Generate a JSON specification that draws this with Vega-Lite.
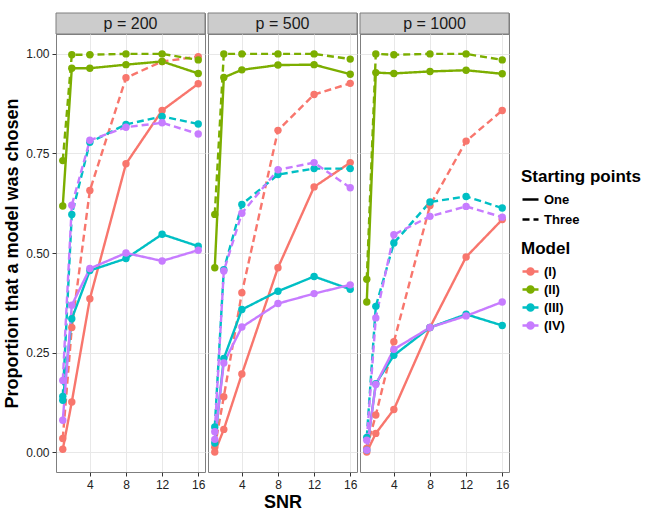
{
  "$schema": "https://vega.github.io/schema/vega-lite/v6.json",
  "padding": {"left": 3, "top": 12, "right": 5, "bottom": 5},
  "datasets": {
    "runs": [
      {"p": 200, "model": "(I)", "start": "One", "snr": 1, "prop": 0.007},
      {"p": 200, "model": "(I)", "start": "One", "snr": 2, "prop": 0.126},
      {"p": 200, "model": "(I)", "start": "One", "snr": 4, "prop": 0.385},
      {"p": 200, "model": "(I)", "start": "One", "snr": 8, "prop": 0.724},
      {"p": 200, "model": "(I)", "start": "One", "snr": 12, "prop": 0.858},
      {"p": 200, "model": "(I)", "start": "One", "snr": 16, "prop": 0.925},
      {"p": 200, "model": "(I)", "start": "Three", "snr": 1, "prop": 0.034},
      {"p": 200, "model": "(I)", "start": "Three", "snr": 2, "prop": 0.313},
      {"p": 200, "model": "(I)", "start": "Three", "snr": 4, "prop": 0.657},
      {"p": 200, "model": "(I)", "start": "Three", "snr": 8, "prop": 0.94},
      {"p": 200, "model": "(I)", "start": "Three", "snr": 12, "prop": 0.981},
      {"p": 200, "model": "(I)", "start": "Three", "snr": 16, "prop": 0.993},
      {"p": 200, "model": "(II)", "start": "One", "snr": 1, "prop": 0.618},
      {"p": 200, "model": "(II)", "start": "One", "snr": 2, "prop": 0.964},
      {"p": 200, "model": "(II)", "start": "One", "snr": 4, "prop": 0.964},
      {"p": 200, "model": "(II)", "start": "One", "snr": 8, "prop": 0.973},
      {"p": 200, "model": "(II)", "start": "One", "snr": 12, "prop": 0.981},
      {"p": 200, "model": "(II)", "start": "One", "snr": 16, "prop": 0.951},
      {"p": 200, "model": "(II)", "start": "Three", "snr": 1, "prop": 0.732},
      {"p": 200, "model": "(II)", "start": "Three", "snr": 2, "prop": 0.998},
      {"p": 200, "model": "(II)", "start": "Three", "snr": 4, "prop": 0.998},
      {"p": 200, "model": "(II)", "start": "Three", "snr": 8, "prop": 1.0},
      {"p": 200, "model": "(II)", "start": "Three", "snr": 12, "prop": 1.0},
      {"p": 200, "model": "(II)", "start": "Three", "snr": 16, "prop": 0.985},
      {"p": 200, "model": "(III)", "start": "One", "snr": 1, "prop": 0.13},
      {"p": 200, "model": "(III)", "start": "One", "snr": 2, "prop": 0.335},
      {"p": 200, "model": "(III)", "start": "One", "snr": 4, "prop": 0.456},
      {"p": 200, "model": "(III)", "start": "One", "snr": 8, "prop": 0.486},
      {"p": 200, "model": "(III)", "start": "One", "snr": 12, "prop": 0.547},
      {"p": 200, "model": "(III)", "start": "One", "snr": 16, "prop": 0.517},
      {"p": 200, "model": "(III)", "start": "Three", "snr": 1, "prop": 0.14},
      {"p": 200, "model": "(III)", "start": "Three", "snr": 2, "prop": 0.597},
      {"p": 200, "model": "(III)", "start": "Three", "snr": 4, "prop": 0.778},
      {"p": 200, "model": "(III)", "start": "Three", "snr": 8, "prop": 0.823},
      {"p": 200, "model": "(III)", "start": "Three", "snr": 12, "prop": 0.843},
      {"p": 200, "model": "(III)", "start": "Three", "snr": 16, "prop": 0.824},
      {"p": 200, "model": "(IV)", "start": "One", "snr": 1, "prop": 0.08},
      {"p": 200, "model": "(IV)", "start": "One", "snr": 2, "prop": 0.369},
      {"p": 200, "model": "(IV)", "start": "One", "snr": 4, "prop": 0.461},
      {"p": 200, "model": "(IV)", "start": "One", "snr": 8, "prop": 0.5},
      {"p": 200, "model": "(IV)", "start": "One", "snr": 12, "prop": 0.48},
      {"p": 200, "model": "(IV)", "start": "One", "snr": 16, "prop": 0.507},
      {"p": 200, "model": "(IV)", "start": "Three", "snr": 1, "prop": 0.18},
      {"p": 200, "model": "(IV)", "start": "Three", "snr": 2, "prop": 0.62},
      {"p": 200, "model": "(IV)", "start": "Three", "snr": 4, "prop": 0.783},
      {"p": 200, "model": "(IV)", "start": "Three", "snr": 8, "prop": 0.816},
      {"p": 200, "model": "(IV)", "start": "Three", "snr": 12, "prop": 0.827},
      {"p": 200, "model": "(IV)", "start": "Three", "snr": 16, "prop": 0.799},

      {"p": 500, "model": "(I)", "start": "One", "snr": 1, "prop": 0.0},
      {"p": 500, "model": "(I)", "start": "One", "snr": 2, "prop": 0.057},
      {"p": 500, "model": "(I)", "start": "One", "snr": 4, "prop": 0.196},
      {"p": 500, "model": "(I)", "start": "One", "snr": 8, "prop": 0.463},
      {"p": 500, "model": "(I)", "start": "One", "snr": 12, "prop": 0.666},
      {"p": 500, "model": "(I)", "start": "One", "snr": 16, "prop": 0.727},
      {"p": 500, "model": "(I)", "start": "Three", "snr": 1, "prop": 0.012},
      {"p": 500, "model": "(I)", "start": "Three", "snr": 2, "prop": 0.139},
      {"p": 500, "model": "(I)", "start": "Three", "snr": 4, "prop": 0.4},
      {"p": 500, "model": "(I)", "start": "Three", "snr": 8, "prop": 0.808},
      {"p": 500, "model": "(I)", "start": "Three", "snr": 12, "prop": 0.898},
      {"p": 500, "model": "(I)", "start": "Three", "snr": 16, "prop": 0.926},
      {"p": 500, "model": "(II)", "start": "One", "snr": 1, "prop": 0.463},
      {"p": 500, "model": "(II)", "start": "One", "snr": 2, "prop": 0.941},
      {"p": 500, "model": "(II)", "start": "One", "snr": 4, "prop": 0.96},
      {"p": 500, "model": "(II)", "start": "One", "snr": 8, "prop": 0.972},
      {"p": 500, "model": "(II)", "start": "One", "snr": 12, "prop": 0.973},
      {"p": 500, "model": "(II)", "start": "One", "snr": 16, "prop": 0.949},
      {"p": 500, "model": "(II)", "start": "Three", "snr": 1, "prop": 0.597},
      {"p": 500, "model": "(II)", "start": "Three", "snr": 2, "prop": 1.0},
      {"p": 500, "model": "(II)", "start": "Three", "snr": 4, "prop": 1.0},
      {"p": 500, "model": "(II)", "start": "Three", "snr": 8, "prop": 1.0},
      {"p": 500, "model": "(II)", "start": "Three", "snr": 12, "prop": 1.0},
      {"p": 500, "model": "(II)", "start": "Three", "snr": 16, "prop": 0.987},
      {"p": 500, "model": "(III)", "start": "One", "snr": 1, "prop": 0.023},
      {"p": 500, "model": "(III)", "start": "One", "snr": 2, "prop": 0.235},
      {"p": 500, "model": "(III)", "start": "One", "snr": 4, "prop": 0.358},
      {"p": 500, "model": "(III)", "start": "One", "snr": 8, "prop": 0.404},
      {"p": 500, "model": "(III)", "start": "One", "snr": 12, "prop": 0.441},
      {"p": 500, "model": "(III)", "start": "One", "snr": 16, "prop": 0.409},
      {"p": 500, "model": "(III)", "start": "Three", "snr": 1, "prop": 0.063},
      {"p": 500, "model": "(III)", "start": "Three", "snr": 2, "prop": 0.458},
      {"p": 500, "model": "(III)", "start": "Three", "snr": 4, "prop": 0.622},
      {"p": 500, "model": "(III)", "start": "Three", "snr": 8, "prop": 0.697},
      {"p": 500, "model": "(III)", "start": "Three", "snr": 12, "prop": 0.712},
      {"p": 500, "model": "(III)", "start": "Three", "snr": 16, "prop": 0.712},
      {"p": 500, "model": "(IV)", "start": "One", "snr": 1, "prop": 0.032},
      {"p": 500, "model": "(IV)", "start": "One", "snr": 2, "prop": 0.224},
      {"p": 500, "model": "(IV)", "start": "One", "snr": 4, "prop": 0.314},
      {"p": 500, "model": "(IV)", "start": "One", "snr": 8, "prop": 0.373},
      {"p": 500, "model": "(IV)", "start": "One", "snr": 12, "prop": 0.398},
      {"p": 500, "model": "(IV)", "start": "One", "snr": 16, "prop": 0.42},
      {"p": 500, "model": "(IV)", "start": "Three", "snr": 1, "prop": 0.051},
      {"p": 500, "model": "(IV)", "start": "Three", "snr": 2, "prop": 0.455},
      {"p": 500, "model": "(IV)", "start": "Three", "snr": 4, "prop": 0.6},
      {"p": 500, "model": "(IV)", "start": "Three", "snr": 8, "prop": 0.709},
      {"p": 500, "model": "(IV)", "start": "Three", "snr": 12, "prop": 0.727},
      {"p": 500, "model": "(IV)", "start": "Three", "snr": 16, "prop": 0.664},

      {"p": 1000, "model": "(I)", "start": "One", "snr": 1, "prop": 0.0},
      {"p": 1000, "model": "(I)", "start": "One", "snr": 2, "prop": 0.047},
      {"p": 1000, "model": "(I)", "start": "One", "snr": 4, "prop": 0.107},
      {"p": 1000, "model": "(I)", "start": "One", "snr": 8, "prop": 0.313},
      {"p": 1000, "model": "(I)", "start": "One", "snr": 12, "prop": 0.49},
      {"p": 1000, "model": "(I)", "start": "One", "snr": 16, "prop": 0.584},
      {"p": 1000, "model": "(I)", "start": "Three", "snr": 1, "prop": 0.01},
      {"p": 1000, "model": "(I)", "start": "Three", "snr": 2, "prop": 0.093},
      {"p": 1000, "model": "(I)", "start": "Three", "snr": 4, "prop": 0.277},
      {"p": 1000, "model": "(I)", "start": "Three", "snr": 8, "prop": 0.619},
      {"p": 1000, "model": "(I)", "start": "Three", "snr": 12, "prop": 0.781},
      {"p": 1000, "model": "(I)", "start": "Three", "snr": 16, "prop": 0.858},
      {"p": 1000, "model": "(II)", "start": "One", "snr": 1, "prop": 0.377},
      {"p": 1000, "model": "(II)", "start": "One", "snr": 2, "prop": 0.953},
      {"p": 1000, "model": "(II)", "start": "One", "snr": 4, "prop": 0.951},
      {"p": 1000, "model": "(II)", "start": "One", "snr": 8, "prop": 0.956},
      {"p": 1000, "model": "(II)", "start": "One", "snr": 12, "prop": 0.959},
      {"p": 1000, "model": "(II)", "start": "One", "snr": 16, "prop": 0.95},
      {"p": 1000, "model": "(II)", "start": "Three", "snr": 1, "prop": 0.434},
      {"p": 1000, "model": "(II)", "start": "Three", "snr": 2, "prop": 1.0},
      {"p": 1000, "model": "(II)", "start": "Three", "snr": 4, "prop": 0.998},
      {"p": 1000, "model": "(II)", "start": "Three", "snr": 8, "prop": 1.0},
      {"p": 1000, "model": "(II)", "start": "Three", "snr": 12, "prop": 1.0},
      {"p": 1000, "model": "(II)", "start": "Three", "snr": 16, "prop": 0.985},
      {"p": 1000, "model": "(III)", "start": "One", "snr": 1, "prop": 0.005},
      {"p": 1000, "model": "(III)", "start": "One", "snr": 2, "prop": 0.172},
      {"p": 1000, "model": "(III)", "start": "One", "snr": 4, "prop": 0.243},
      {"p": 1000, "model": "(III)", "start": "One", "snr": 8, "prop": 0.313},
      {"p": 1000, "model": "(III)", "start": "One", "snr": 12, "prop": 0.346},
      {"p": 1000, "model": "(III)", "start": "One", "snr": 16, "prop": 0.318},
      {"p": 1000, "model": "(III)", "start": "Three", "snr": 1, "prop": 0.037},
      {"p": 1000, "model": "(III)", "start": "Three", "snr": 2, "prop": 0.366},
      {"p": 1000, "model": "(III)", "start": "Three", "snr": 4, "prop": 0.525},
      {"p": 1000, "model": "(III)", "start": "Three", "snr": 8, "prop": 0.628},
      {"p": 1000, "model": "(III)", "start": "Three", "snr": 12, "prop": 0.642},
      {"p": 1000, "model": "(III)", "start": "Three", "snr": 16, "prop": 0.613},
      {"p": 1000, "model": "(IV)", "start": "One", "snr": 1, "prop": 0.005},
      {"p": 1000, "model": "(IV)", "start": "One", "snr": 2, "prop": 0.17},
      {"p": 1000, "model": "(IV)", "start": "One", "snr": 4, "prop": 0.258},
      {"p": 1000, "model": "(IV)", "start": "One", "snr": 8, "prop": 0.313},
      {"p": 1000, "model": "(IV)", "start": "One", "snr": 12, "prop": 0.342},
      {"p": 1000, "model": "(IV)", "start": "One", "snr": 16, "prop": 0.377},
      {"p": 1000, "model": "(IV)", "start": "Three", "snr": 1, "prop": 0.03},
      {"p": 1000, "model": "(IV)", "start": "Three", "snr": 2, "prop": 0.337},
      {"p": 1000, "model": "(IV)", "start": "Three", "snr": 4, "prop": 0.546},
      {"p": 1000, "model": "(IV)", "start": "Three", "snr": 8, "prop": 0.592},
      {"p": 1000, "model": "(IV)", "start": "Three", "snr": 12, "prop": 0.617},
      {"p": 1000, "model": "(IV)", "start": "Three", "snr": 16, "prop": 0.59}
    ]
  },
  "columns": 3,
  "spacing": {"row": 0, "column": 3},
  "bounds": "flush",
  "concat": [
    {
      "width": 149, "height": 21,
      "data": {"values": [{"lab": "p = 200"}]},
      "encoding": {
        "x": {"field": "lab", "type": "nominal", "axis": null, "scale": {"paddingInner": 0, "paddingOuter": 0}},
        "y": {"field": "lab", "type": "nominal", "axis": null, "scale": {"paddingInner": 0, "paddingOuter": 0}}
      },
      "layer": [
        {"mark": {"type": "rect", "fill": "#cccccc", "stroke": "#7f7f7f", "strokeWidth": 1}},
        {"mark": {"type": "text", "fontSize": 16, "color": "#1a1a1a"}, "encoding": {"text": {"field": "lab"}}}
      ]
    },
    {
      "width": 149, "height": 21,
      "data": {"values": [{"lab": "p = 500"}]},
      "encoding": {
        "x": {"field": "lab", "type": "nominal", "axis": null, "scale": {"paddingInner": 0, "paddingOuter": 0}},
        "y": {"field": "lab", "type": "nominal", "axis": null, "scale": {"paddingInner": 0, "paddingOuter": 0}}
      },
      "layer": [
        {"mark": {"type": "rect", "fill": "#cccccc", "stroke": "#7f7f7f", "strokeWidth": 1}},
        {"mark": {"type": "text", "fontSize": 16, "color": "#1a1a1a"}, "encoding": {"text": {"field": "lab"}}}
      ]
    },
    {
      "width": 149, "height": 21,
      "data": {"values": [{"lab": "p = 1000"}]},
      "encoding": {
        "x": {"field": "lab", "type": "nominal", "axis": null, "scale": {"paddingInner": 0, "paddingOuter": 0}},
        "y": {"field": "lab", "type": "nominal", "axis": null, "scale": {"paddingInner": 0, "paddingOuter": 0}}
      },
      "layer": [
        {"mark": {"type": "rect", "fill": "#cccccc", "stroke": "#7f7f7f", "strokeWidth": 1}},
        {"mark": {"type": "text", "fontSize": 16, "color": "#1a1a1a"}, "encoding": {"text": {"field": "lab"}}}
      ]
    },
    {
      "width": 149, "height": 438,
      "data": {"name": "runs"},
      "transform": [{"filter": "datum.p == 200"}],
      "layer": [
        {
          "mark": {"type": "line", "strokeWidth": 2.4},
          "encoding": {
            "x": {"field": "snr", "type": "quantitative", "scale": {"domain": [0.25, 16.75], "nice": false, "zero": false},
                  "axis": {"values": [4, 8, 12, 16], "title": null}},
            "y": {"field": "prop", "type": "quantitative", "scale": {"domain": [-0.05, 1.05], "nice": false, "zero": false},
                  "axis": {"values": [0, 0.25, 0.5, 0.75, 1], "format": ".2f", "title": "Proportion that a model was chosen"}},
            "color": {"field": "model", "type": "nominal", "title": "Model",
                      "scale": {"domain": ["(I)", "(II)", "(III)", "(IV)"], "range": ["#F8766D", "#7CAE00", "#00BFC4", "#C77CFF"]},
                      "legend": {"orient": "none", "legendX": 465, "legendY": 228, "rowPadding": 0}},
            "strokeDash": {"field": "start", "type": "nominal", "title": "Starting points",
                           "scale": {"domain": ["One", "Three"], "range": [[1, 0], [7, 4]]},
                           "legend": {"orient": "none", "legendX": 465, "legendY": 156, "symbolType": "stroke", "symbolStrokeColor": "black", "symbolStrokeWidth": 2.5}}
          }
        },
        {
          "mark": {"type": "point", "filled": true, "size": 55, "opacity": 1},
          "encoding": {
            "x": {"field": "snr", "type": "quantitative",
                  "axis": {"values": [2, 6, 10, 14], "labels": false, "ticks": false, "domain": false, "title": null, "gridColor": "#f5f5f5"}},
            "y": {"field": "prop", "type": "quantitative",
                  "axis": {"values": [0.125, 0.375, 0.625, 0.875], "labels": false, "ticks": false, "domain": false, "title": null, "gridColor": "#f5f5f5"}},
            "color": {"field": "model", "type": "nominal", "title": "Model"}
          }
        }
      ],
      "resolve": {"axis": {"x": "independent", "y": "independent"}}
    },
    {
      "width": 149, "height": 438,
      "data": {"name": "runs"},
      "transform": [{"filter": "datum.p == 500"}],
      "layer": [
        {
          "mark": {"type": "line", "strokeWidth": 2.4},
          "encoding": {
            "x": {"field": "snr", "type": "quantitative", "scale": {"domain": [0.25, 16.75], "nice": false, "zero": false},
                  "axis": {"values": [4, 8, 12, 16], "title": "SNR", "titlePadding": 3}},
            "y": {"field": "prop", "type": "quantitative", "scale": {"domain": [-0.05, 1.05], "nice": false, "zero": false},
                  "axis": {"values": [0, 0.25, 0.5, 0.75, 1], "labels": false, "ticks": false, "title": null}},
            "color": {"field": "model", "type": "nominal", "title": "Model",
                      "scale": {"domain": ["(I)", "(II)", "(III)", "(IV)"], "range": ["#F8766D", "#7CAE00", "#00BFC4", "#C77CFF"]},
                      "legend": {"orient": "none", "legendX": 465, "legendY": 228, "rowPadding": 0}},
            "strokeDash": {"field": "start", "type": "nominal", "title": "Starting points",
                           "scale": {"domain": ["One", "Three"], "range": [[1, 0], [7, 4]]},
                           "legend": {"orient": "none", "legendX": 465, "legendY": 156, "symbolType": "stroke", "symbolStrokeColor": "black", "symbolStrokeWidth": 2.5}}
          }
        },
        {
          "mark": {"type": "point", "filled": true, "size": 55, "opacity": 1},
          "encoding": {
            "x": {"field": "snr", "type": "quantitative",
                  "axis": {"values": [2, 6, 10, 14], "labels": false, "ticks": false, "domain": false, "title": null, "gridColor": "#f5f5f5"}},
            "y": {"field": "prop", "type": "quantitative",
                  "axis": {"values": [0.125, 0.375, 0.625, 0.875], "labels": false, "ticks": false, "domain": false, "title": null, "gridColor": "#f5f5f5"}},
            "color": {"field": "model", "type": "nominal", "title": "Model"}
          }
        }
      ],
      "resolve": {"axis": {"x": "independent", "y": "independent"}}
    },
    {
      "width": 149, "height": 438,
      "data": {"name": "runs"},
      "transform": [{"filter": "datum.p == 1000"}],
      "layer": [
        {
          "mark": {"type": "line", "strokeWidth": 2.4},
          "encoding": {
            "x": {"field": "snr", "type": "quantitative", "scale": {"domain": [0.25, 16.75], "nice": false, "zero": false},
                  "axis": {"values": [4, 8, 12, 16], "title": null}},
            "y": {"field": "prop", "type": "quantitative", "scale": {"domain": [-0.05, 1.05], "nice": false, "zero": false},
                  "axis": {"values": [0, 0.25, 0.5, 0.75, 1], "labels": false, "ticks": false, "title": null}},
            "color": {"field": "model", "type": "nominal", "title": "Model",
                      "scale": {"domain": ["(I)", "(II)", "(III)", "(IV)"], "range": ["#F8766D", "#7CAE00", "#00BFC4", "#C77CFF"]},
                      "legend": {"orient": "none", "legendX": 465, "legendY": 228, "rowPadding": 0}},
            "strokeDash": {"field": "start", "type": "nominal", "title": "Starting points",
                           "scale": {"domain": ["One", "Three"], "range": [[1, 0], [7, 4]]},
                           "legend": {"orient": "none", "legendX": 465, "legendY": 156, "symbolType": "stroke", "symbolStrokeColor": "black", "symbolStrokeWidth": 2.5}}
          }
        },
        {
          "mark": {"type": "point", "filled": true, "size": 55, "opacity": 1},
          "encoding": {
            "x": {"field": "snr", "type": "quantitative",
                  "axis": {"values": [2, 6, 10, 14], "labels": false, "ticks": false, "domain": false, "title": null, "gridColor": "#f5f5f5"}},
            "y": {"field": "prop", "type": "quantitative",
                  "axis": {"values": [0.125, 0.375, 0.625, 0.875], "labels": false, "ticks": false, "domain": false, "title": null, "gridColor": "#f5f5f5"}},
            "color": {"field": "model", "type": "nominal", "title": "Model"}
          }
        }
      ],
      "resolve": {"axis": {"x": "independent", "y": "independent"}}
    }
  ],
  "resolve": {"scale": {"color": "shared", "strokeDash": "shared"}, "legend": {"color": "shared", "strokeDash": "shared"}},
  "config": {
    "font": "Liberation Sans",
    "view": {"stroke": "#7f7f7f", "strokeWidth": 1},
    "axis": {
      "domain": false,
      "gridColor": "#e8e8e8",
      "gridWidth": 1,
      "tickColor": "#333333",
      "tickSize": 4,
      "labelFontSize": 12,
      "labelColor": "#222222",
      "labelPadding": 3,
      "titleFontSize": 18,
      "titleFontWeight": "bold",
      "titleColor": "#000000",
      "titlePadding": 4
    },
    "legend": {
      "titleFontSize": 17,
      "titleFontWeight": "bold",
      "titleColor": "#000000",
      "labelFontSize": 13,
      "labelFontWeight": "bold",
      "labelColor": "#000000",
      "symbolSize": 256,
      "rowPadding": 3,
      "titlePadding": 4,
      "symbolType": "M-1,0L1,0M-0.38,0A0.38,0.38 0 1,1 0.38,0A0.38,0.38 0 1,1 -0.38,0Z",
      "symbolStrokeWidth": 2.5
    }
  }
}
